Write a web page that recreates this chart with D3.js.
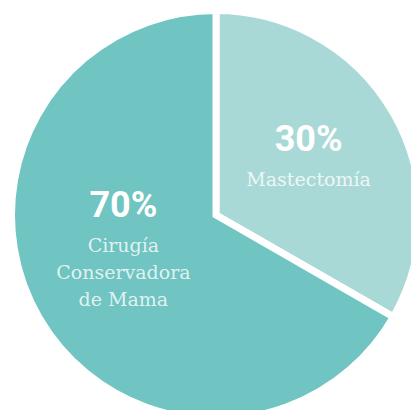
<!DOCTYPE html>
<html>
<head>
<meta charset="utf-8">
<script src="https://cdn.jsdelivr.net/npm/d3@7"></script>
<style>
    html, body { margin: 0; padding: 0; background: #ffffff; }
    svg { display: block; }
</style>
</head>
<body>
<div id="chart"></div>
<script>
// wedge sizes as drawn (the 30% wedge measures a third of the circle in the picture)
var sliceSizes = [33.3, 66.7]
var percentLabels = ['30%', '70%']
var nameLines = [['Mastectomía'], ['Cirugía', 'Conservadora', 'de Mama']]
var sliceColors = ['#a9d9d6', '#70c4c1']

var width = 411,
    height = 410

var cx = 216,
    cy = 215,
    radius = 204.5

// small vertical lift applied to each label block
var labelLift = [6, 20]

var svg = d3.select('#chart')
    .append('svg')
    .attr('width', width)
    .attr('height', height)

var g = svg.append('g')
    .attr('transform', 'translate(' + cx + ',' + cy + ')')

var pie = d3.pie()
    .sort(null)
    .value(function(d) { return d })

var arc = d3.arc()
    .innerRadius(0)
    .outerRadius(radius)

var labelArc = d3.arc()
    .innerRadius(107)
    .outerRadius(107)

var arcs = pie(sliceSizes)

g.selectAll('path')
    .data(arcs)
    .enter()
    .append('path')
    .attr('d', arc)
    .attr('fill', function(d, i) { return sliceColors[i] })
    .attr('stroke', '#ffffff')
    .attr('stroke-width', 7)
    .attr('stroke-linejoin', 'miter')

var pctGap = 35,
    lineGap = 27,
    capH = 26

var labels = g.selectAll('g.label')
    .data(arcs)
    .enter()
    .append('g')
    .attr('class', 'label')
    .attr('transform', function(d, i) {
        var c = labelArc.centroid(d)
        var n = nameLines[i].length
        var blockH = capH + pctGap + (n - 1) * lineGap
        var base = c[1] - blockH / 2 + capH - labelLift[i]
        return 'translate(' + c[0] + ',' + base + ')'
    })

labels.append('text')
    .attr('text-anchor', 'middle')
    .attr('fill', '#ffffff')
    .style('font-family', 'Roboto, sans-serif')
    .style('font-weight', 700)
    .style('font-size', '36px')
    .text(function(d, i) { return percentLabels[i] })

labels.each(function(d, i) {
    d3.select(this)
        .selectAll('text.name')
        .data(nameLines[i])
        .enter()
        .append('text')
        .attr('class', 'name')
        .attr('text-anchor', 'middle')
        .attr('y', function(t, j) { return pctGap + j * lineGap })
        .attr('fill', '#ffffff')
        .attr('fill-opacity', 0.8)
        .style('font-family', '"DejaVu Serif", serif')
        .style('font-weight', 300)
        .style('font-size', '19px')
        .text(function(t) { return t })
})
</script>
</body>
</html>
